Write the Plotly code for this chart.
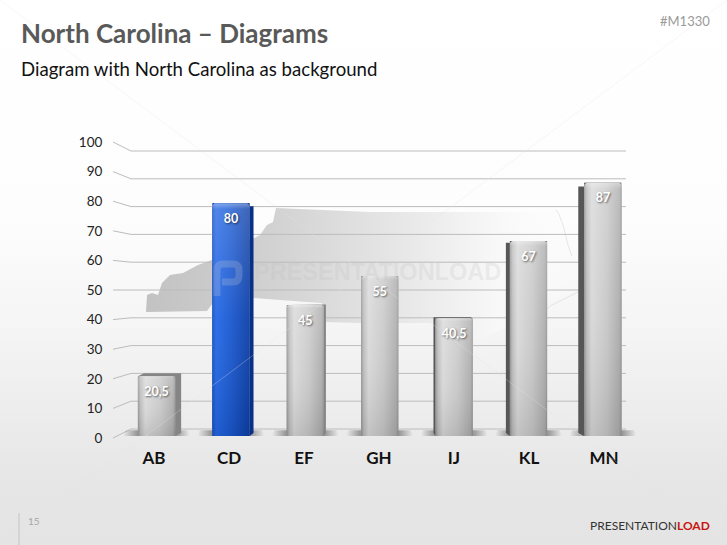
import plotly.graph_objects as go

# chart data
categories = ["AB", "CD", "EF", "GH", "IJ", "KL", "MN"]
values = [20.5, 80, 45, 55, 40.5, 67, 87]
value_labels = ["20,5", "80", "45", "55", "40,5", "67", "87"]
y_ticks = [0, 10, 20, 30, 40, 50, 60, 70, 80, 90, 100]

# outline of the state behind the bars, in page pixels
nc_x = [146, 147, 152, 158, 162, 170, 183, 198, 212, 253, 260, 267, 273, 276, 370, 530, 555, 563,
        570, 575, 560, 530, 500, 470, 440, 360, 326, 322, 307, 253, 213, 207]
nc_y = [312, 295, 293, 295, 283, 275, 273, 265, 260, 238, 235, 225, 222, 208, 212, 212, 210, 225,
        252, 270, 295, 318, 330, 345, 323, 323, 322, 303, 302, 298, 303, 311]

# bits of coastline that stay visible where the state has faded out
coast_x = [555, 558, 563, 568, 572, None, 578, 562, 550, 546]
coast_y = [210, 212, 225, 245, 256, None, 292, 300, 306, 310]

W, H = 727, 545

# scale of the front of the bars
ZERO_PX = 436
PX_PER_UNIT = 2.91
FIRST_BAR_PX = 156.5
BAR_STEP_PX = 74.4

FONT = "Lato"


def x_unit(px):
    return (px - FIRST_BAR_PX) / BAR_STEP_PX


def y_unit(px):
    return (ZERO_PX - px) / PX_PER_UNIT


# the three scales of the fake 3D wall
def tick_pos(v):
    return y_unit(438 - 2.96 * v)


def wall_pos(v):
    return y_unit(429 - 2.78 * v)


def note(text, x, y, size, color, anchor="left", bold=False, family=FONT):
    if bold:
        text = "<b>" + text + "</b>"
    return dict(text=text, x=x / W, y=1 - y / H, xref="paper", yref="paper", showarrow=False,
                xanchor=anchor, yanchor="middle", font=dict(family=family, size=size, color=color))


fig = go.Figure()

# page background and state, on the hidden pixel axes underneath
fig.add_trace(go.Scatter(
    x=[0, W, W, 0, 0], y=[0, 0, H, H, 0], xaxis="x2", yaxis="y2", mode="lines", fill="toself",
    line=dict(width=0), hoverinfo="skip", showlegend=False,
    fillgradient=dict(type="vertical", start=0, stop=H, colorscale=[
        [0, "#ffffff"], [0.4, "#fdfdfd"], [0.6, "#f5f5f5"], [0.88, "#e6e6e6"], [1, "#e4e4e4"]])
))
fig.add_trace(go.Scatter(
    x=nc_x + nc_x[:1], y=nc_y + nc_y[:1], xaxis="x2", yaxis="y2", mode="lines", fill="toself",
    line=dict(width=0), hoverinfo="skip", showlegend=False,
    fillgradient=dict(type="horizontal", colorscale=[
        [0, "#c2c2c2"], [0.3, "#d2d2d2"], [0.55, "#e4e4e4"], [0.82, "#f8f8f8"], [1, "rgba(252,252,252,0)"]])
))
fig.add_trace(go.Scatter(
    x=coast_x, y=coast_y, xaxis="x2", yaxis="y2", mode="lines",
    line=dict(color="rgba(190,190,190,0.35)", width=1), hoverinfo="skip", showlegend=False
))

# wall lines
line_x = []
line_y = []
for v in y_ticks:
    line_x += [x_unit(113), x_unit(131), x_unit(626), None]
    line_y += [tick_pos(v), wall_pos(v), wall_pos(v), None]
fig.add_trace(go.Scatter(x=line_x, y=line_y, mode="lines", line=dict(color="#bcbcbc", width=1),
                         hoverinfo="skip", showlegend=False))

# the bars themselves, their edge stays visible around the gradient faces
half = 0.25
fig.add_trace(go.Bar(
    x=list(range(len(categories))), y=values, width=2 * half, hoverinfo="skip", showlegend=False,
    marker=dict(color=["#0f46b4" if c == "CD" else "#9c9c9c" for c in categories], line=dict(width=0))
))

for i, v in enumerate(values):
    xl, xr = i - half, i + half
    blue = categories[i] == "CD"

    # soft shadow on the floor
    fig.add_trace(go.Scatter(
        x=[i - 0.42, i + 0.42, i + 0.45, i - 0.45, i - 0.42], y=[2, 2, 0, 0, 2], mode="lines", fill="toself",
        line=dict(width=0), hoverinfo="skip", showlegend=False,
        fillgradient=dict(type="horizontal", colorscale=[
            [0, "rgba(120,120,120,0)"], [0.2, "rgba(120,120,120,0.7)"],
            [0.8, "rgba(120,120,120,0.7)"], [1, "rgba(120,120,120,0)"]])
    ))

    # side and top face, leaning towards the middle of the chart
    side = (3 - i) * 0.027
    rise = (50 - v) * 0.035
    edge = xr if side > 0 else xl
    other = xl if side > 0 else xr
    if side != 0:
        if blue:
            side_color = "#0a2f86"
        elif side > 0:
            side_color = "#858585"
        else:
            side_color = "#565656"
        fig.add_trace(go.Scatter(
            x=[edge, edge + side, edge + side, other + side, other, edge, edge],
            y=[0, 1, v + rise, v + rise, v, v, 0],
            mode="lines", fill="toself", fillcolor=side_color, line=dict(width=0),
            hoverinfo="skip", showlegend=False
        ))

    # front face
    cx = 0.03
    cy = 0.7
    face_x = [xl, xl, xl + cx, xr - cx, xr, xr, xl]
    face_y = [0, v - cy, v, v, v - cy, 0, 0]
    if blue:
        scale = [[0, "#1a50c0"], [0.1, "#2468e6"], [0.5, "#1a58d0"], [1, "#0c3fa6"]]
    else:
        scale = [[0, "#959595"], [0.07, "#bcbcbc"], [0.2, "#d8d8d8"], [0.6, "#c8c8c8"], [0.94, "#adadad"], [1, "#959595"]]
    fig.add_trace(go.Scatter(
        x=face_x, y=face_y, mode="lines", fill="toself", line=dict(width=0), hoverinfo="skip", showlegend=False,
        fillgradient=dict(type="horizontal", colorscale=scale)
    ))
    fig.add_trace(go.Scatter(
        x=face_x, y=face_y, mode="lines", fill="toself", line=dict(width=0), hoverinfo="skip", showlegend=False,
        fillgradient=dict(type="vertical", start=y_unit(ZERO_PX - v * PX_PER_UNIT), stop=0, colorscale=[
            [0, "rgba(255,255,255,0.45)"], [0.025, "rgba(255,255,255,0.2)"], [0.5, "rgba(255,255,255,0.05)"], [1, "rgba(0,0,0,0.1)"]])
    ))

# value labels
fig.add_trace(go.Scatter(
    x=list(range(len(categories))), y=[v - 16.5 / PX_PER_UNIT for v in values], mode="text",
    text=value_labels, textposition="middle center", hoverinfo="skip", showlegend=False,
    textfont=dict(family=FONT, size=12.5, color="white", weight="bold", shadow="1px 1px 2px rgba(0,0,0,0.55)")
))

shapes = [
    # faint diagonals of the slide template
    dict(type="line", xref="paper", yref="paper", x0=0, y0=1, x1=1, y1=0, layer="above",
         line=dict(color="rgba(228,228,228,0.3)", width=1)),
    dict(type="line", xref="paper", yref="paper", x0=0, y0=0, x1=1, y1=1, layer="above",
         line=dict(color="rgba(228,228,228,0.3)", width=1)),
    # watermark logo
    dict(type="path", xref="x2", yref="y2", layer="above",
         path="M 217 296 L 217 270 Q 217 264 223 264 L 233 264 Q 239 264 239 270 L 239 276 Q 239 282 233 282 L 222 282",
         line=dict(color="rgba(215,215,215,0.22)", width=7)),
    # footer rule
    dict(type="line", xref="x2", yref="y2", x0=19, x1=19, y0=513, y1=545, layer="above",
         line=dict(color="#c4c4c4", width=1)),
]

annotations = [
    note("North Carolina – Diagrams", 19, 33, 26, "#595959", bold=True),
    note("Diagram with North Carolina as background", 19, 69, 18.6, "#111111"),
    note("#M1330", 712, 21, 13, "#9a9a9a", anchor="right"),
    note("PRESENTATIONLOAD", 252, 272, 23.5, "rgba(190,190,190,0.22)", bold=True, family="Liberation Sans"),
    note("15", 26, 521, 10, "#a8a8a8"),
    note("PRESENTATION<span style='color:#c8140f'><b>LOAD</b></span>", 712, 525, 12, "#333333", anchor="right"),
]

fig.update_layout(
    width=W, height=H, margin=dict(l=0, r=0, t=0, b=0), autosize=False,
    paper_bgcolor="white", plot_bgcolor="rgba(0,0,0,0)",
    barmode="overlay", showlegend=False, shapes=shapes, annotations=annotations,
    xaxis2=dict(domain=[0, 1], range=[0, W], visible=False, anchor="y2"),
    yaxis2=dict(domain=[0, 1], range=[H, 0], visible=False, anchor="x2"),
    xaxis=dict(
        overlaying="x2", anchor="free", position=1 - 446 / H, range=[x_unit(0), x_unit(W)],
        tickmode="array", tickvals=[x_unit(154 + 75 * i) for i in range(len(categories))], ticktext=categories,
        showgrid=False, zeroline=False, showline=False, ticks="",
        tickfont=dict(family=FONT, size=17, color="#111111", weight="bold")
    ),
    yaxis=dict(
        overlaying="y2", anchor="free", position=113 / W, range=[y_unit(H), y_unit(0)],
        tickmode="array", tickvals=[tick_pos(v) for v in y_ticks], ticktext=[str(v) for v in y_ticks],
        showgrid=False, zeroline=False, showline=False, ticks="outside", ticklen=8,
        tickcolor="rgba(0,0,0,0)", tickfont=dict(family=FONT, size=13.5, color="#222222")
    ),
)

fig.write_html("out.html", config=dict(displayModeBar=False), post_script="document.body.style.margin='0';")
